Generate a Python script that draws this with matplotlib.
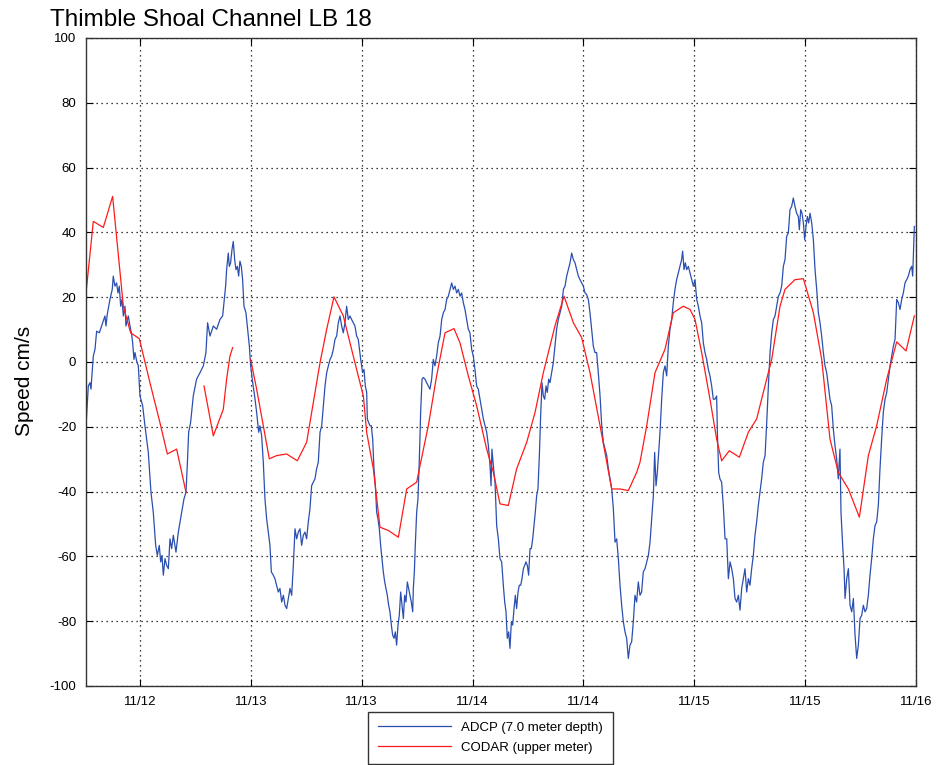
import numpy as np
import pandas as pd
import matplotlib
matplotlib.use('Agg')
import matplotlib.pyplot as plt
import matplotlib.dates as mdates

plt.rcParams['font.family'] = ['Liberation Sans', 'DejaVu Sans']
plt.rcParams['axes.unicode_minus'] = False

# hours after 11/12 00:00
adcp_hours = [
    6.16, 6.41, 6.59, 6.70, 6.77, 6.95, 7.13, 7.31, 7.60, 7.85, 8.10, 8.21, 8.32, 8.46,
    8.75, 9.00, 9.11, 9.29, 9.47, 9.62, 9.76, 9.91, 10.05, 10.20, 10.38, 10.48, 10.74,
    10.92, 11.10, 11.21, 11.35, 11.46, 11.64, 11.82, 12.00, 12.29, 12.54, 12.90, 13.19,
    13.44, 13.70, 13.88, 14.09, 14.24, 14.38, 14.53, 14.71, 14.89, 15.07, 15.25, 15.43,
    15.61, 15.90, 16.15, 16.40, 16.76, 16.98, 17.12, 17.27, 17.48, 17.77, 18.13, 18.50,
    18.86, 19.14, 19.32, 19.58, 19.94, 20.30, 20.66, 20.95, 21.27, 21.38, 21.56,
    21.67, 21.81, 21.96, 22.10, 22.25, 22.39, 22.54, 22.68, 22.82, 22.97, 23.11, 23.26,
    23.47, 23.69, 23.84, 23.98, 24.20, 24.41, 24.63, 24.85, 24.99, 25.17, 25.35, 25.53,
    25.71, 25.89, 26.07, 26.22, 26.43, 26.61, 26.79, 26.97, 27.15, 27.34, 27.52, 27.70,
    27.88, 28.06, 28.24, 28.42, 28.60, 28.78, 28.96, 29.14, 29.32, 29.50, 29.68, 29.86,
    30.04, 30.22, 30.40, 30.58, 30.76, 30.94, 31.12, 31.30, 31.49, 31.67, 31.85, 32.03,
    32.21, 32.39, 32.57, 32.75, 32.93, 33.11, 33.29, 33.47, 33.65, 33.83, 34.01, 34.19,
    34.37, 34.55, 34.73, 34.91, 35.09, 35.27, 35.45, 35.63,
    35.89, 36.10, 36.25, 36.39, 36.54, 36.61, 36.75, 36.90, 37.04, 37.19, 37.33, 37.48,
    37.62, 37.76, 37.91, 38.05, 38.20, 38.34, 38.49, 38.63, 38.77, 38.92, 39.06, 39.21,
    39.35, 39.50, 39.64, 39.78, 39.93, 40.07, 40.22, 40.36, 40.51, 40.65, 40.79, 40.94,
    41.08, 41.23, 41.37, 41.52, 41.59, 41.70, 41.80, 41.95, 42.09, 42.24, 42.38, 42.53,
    42.67, 42.85, 43.03, 43.21, 43.39, 43.57, 43.75, 43.93, 44.11, 44.29, 44.48, 44.66,
    44.84, 45.02, 45.20, 45.38, 45.56, 45.74, 45.92, 46.10, 46.28, 46.46, 46.64, 46.82,
    47.00, 47.18, 47.36, 47.54, 47.72, 47.90, 48.08, 48.26, 48.44, 48.62, 48.81, 48.99,
    49.17, 49.35, 49.53, 49.71, 49.89, 50.00, 50.10, 50.25, 50.43, 50.61, 50.79,
    50.97, 51.15, 51.33, 51.48, 51.62, 51.76, 51.91, 52.05, 52.20, 52.34, 52.49, 52.63,
    52.77, 52.92, 53.06, 53.21, 53.35, 53.50, 53.64, 53.78, 53.93, 54.07, 54.22, 54.36,
    54.51, 54.65, 54.79, 54.94, 55.08, 55.23, 55.37, 55.52, 55.66, 55.81, 55.95, 56.09,
    56.24, 56.38, 56.56, 56.74, 56.92, 57.10, 57.28, 57.47, 57.65, 57.83, 58.01, 58.19,
    58.37, 58.55, 58.73, 58.91, 59.09, 59.27, 59.45, 59.63, 59.81, 59.99, 60.17, 60.35,
    60.53, 60.71, 60.89, 61.07, 61.25, 61.43, 61.61, 61.80, 61.98, 62.16, 62.34, 62.52,
    62.70, 62.88, 63.06, 63.24, 63.42, 63.60, 63.78, 63.96, 64.14, 64.32, 64.50, 64.68,
    64.86, 65.04, 65.22, 65.40, 65.58, 65.76, 65.94,
    66.12, 66.30, 66.48, 66.67, 66.85, 67.03, 67.21, 67.39, 67.57, 67.71, 67.86, 68.00,
    68.14, 68.29, 68.47, 68.65, 68.83, 69.01, 69.19, 69.37, 69.55, 69.73, 69.91, 70.09,
    70.27, 70.45, 70.63, 70.74, 70.89, 71.03, 71.18, 71.36, 71.54, 71.72, 71.90, 72.08,
    72.26, 72.44, 72.62, 72.80, 72.98, 73.16, 73.34, 73.52, 73.70, 73.88, 74.06, 74.24,
    74.42, 74.50, 74.64, 74.78, 74.96, 75.14, 75.33, 75.51, 75.69, 75.87, 76.05, 76.23,
    76.41, 76.59, 76.77, 76.95, 77.13, 77.31, 77.49, 77.67, 77.85, 78.03, 78.21, 78.39,
    78.57, 78.75, 78.93, 79.11, 79.29, 79.47, 79.66, 79.84, 80.02, 80.20, 80.38, 80.56,
    80.74, 80.92, 81.10,
    81.28, 81.46, 81.64, 81.82, 82.00, 82.18, 82.36, 82.54, 82.72, 82.90, 83.08, 83.26,
    83.37, 83.52, 83.66, 83.81, 83.95, 84.09, 84.24, 84.38, 84.53, 84.71, 84.89, 85.07,
    85.25, 85.43, 85.61, 85.79, 85.97, 86.15, 86.33, 86.51, 86.69, 86.87, 87.05, 87.23,
    87.41, 87.59, 87.77, 87.88, 88.06, 88.21, 88.32, 88.50, 88.68, 88.86, 89.04, 89.22,
    89.40, 89.58, 89.76, 89.94, 90.12, 90.30, 90.48, 90.66, 90.84, 91.02, 91.20, 91.38,
    91.56, 91.74, 91.92, 92.10, 92.28, 92.46, 92.65, 92.83, 93.01, 93.19, 93.37, 93.55,
    93.73, 93.91, 94.09, 94.27, 94.45, 94.63, 94.81, 94.99, 95.17, 95.35, 95.53, 95.64,
    95.75, 95.82,
]

adcp_speed = [
    -19.7, -7.4, -6.4, -8.4, -5.3, 1.8, 3.9, 9.5, 9.0, 11.1, 13.1, 14.2, 11.1, 14.7,
    19.3, 22.4, 26.5, 23.4, 24.4, 21.3, 23.4, 17.2, 19.3, 14.2, 17.2, 11.1, 14.2,
    11.1, 8.5, 5.9, 0.8, 2.9, 0.3, -1.2, -10.5, -13.5, -19.7, -27.9, -40.2,
    -46.4, -56.6, -59.7, -56.6, -61.7, -59.7, -65.8, -60.7, -62.8, -63.8, -54.6, -57.6,
    -53.5, -58.7, -52.5, -48.4, -42.3, -40.2, -32.0, -21.7, -18.7, -10.5, -5.3, -3.3,
    -1.2, 2.9, 12.1, 8.0, 11.1, 10.1, 13.1, 14.2, 23.4, 28.5, 33.6,
    29.5, 30.6, 34.7, 37.2, 31.6, 28.5, 29.5, 26.5, 31.1, 29.5, 25.4, 17.2,
    15.2, 9.0, 4.9, -1.2, -6.4, -10.5, -15.6, -21.7, -19.7, -22.8, -31.0, -42.3,
    -48.4, -52.5, -56.6, -64.8, -65.8, -66.9, -68.9, -71.0, -69.9, -74.1, -72.0, -75.1,
    -76.1, -73.0, -69.9, -72.0, -62.8, -51.5, -54.6, -52.5, -51.5, -56.6, -53.5, -52.5,
    -54.6, -49.4, -45.3, -38.2, -37.1, -36.1, -33.0, -31.0, -21.7, -19.7, -13.5, -7.4,
    -3.3, -1.2, 0.8, 1.8, 3.9, 7.0, 8.0, 12.1, 14.2, 11.1, 9.0, 12.1,
    17.2, 13.1, 14.2, 13.1, 12.1, 11.1, 8.0, 7.0,
    0.8, -3.3, -2.3, -7.4, -9.4, -17.6, -18.7, -19.7, -19.7, -23.8, -33.0, -38.2,
    -46.4, -48.4, -51.5, -56.6, -60.7, -64.8, -67.9, -69.9, -72.0, -75.1, -77.1, -81.2,
    -84.3, -85.3, -83.3, -87.4, -81.2, -78.2, -71.0, -75.1, -79.2, -72.0, -74.1, -67.9,
    -69.9, -72.0, -74.1, -77.1, -69.9, -64.8, -56.6, -46.4, -42.3, -29.9, -15.6, -5.3,
    -4.8, -5.3, -6.4, -7.4, -8.4, -5.3, 0.8, -1.2, 1.8, 5.9, 8.0, 13.1,
    15.2, 16.2, 19.3, 20.3, 22.4, 24.4, 22.4, 23.4, 21.3, 22.4, 20.3, 21.3,
    18.3, 16.2, 13.1, 10.1, 9.0, 3.9, 1.8, -2.3, -7.4, -8.4, -11.5, -14.6,
    -17.6, -19.7, -21.7, -25.8, -32.0, -38.2, -26.9, -32.0, -37.1, -50.5, -54.6,
    -60.7, -61.7, -68.9, -74.1, -77.1, -85.3, -83.3, -88.4, -80.2, -81.2, -76.1, -72.0,
    -76.1, -71.0, -68.9, -68.9, -66.9, -63.8, -62.8, -61.7, -62.8, -65.8, -57.6, -57.6,
    -54.6, -50.5, -46.4, -41.2, -39.2, -28.9, -16.6, -6.4, -10.5, -11.5, -7.4, -9.4,
    -5.3, -6.4, -3.3, -0.2, 4.9, 10.1, 13.1, 15.2, 17.2, 22.4, 23.4, 26.5,
    28.5, 30.6, 33.6, 31.6, 30.6, 28.5, 26.5, 25.4, 24.4, 23.4, 21.3, 20.8,
    19.3, 15.2, 10.1, 4.9, 2.9, 2.9, -3.3, -10.5, -19.7, -24.8, -26.9, -28.9,
    -33.0, -36.1, -39.2, -45.3, -55.6, -54.6, -60.7, -68.9, -75.1, -80.2, -83.3, -85.3,
    -91.5, -87.4, -86.4, -80.2, -72.0, -74.1, -67.9,
    -72.0, -71.0, -64.8, -63.8, -61.7, -59.7, -55.6, -48.4, -41.2, -27.9, -38.2, -34.1,
    -27.9, -21.7, -11.5, -3.3, -1.2, -4.3, 4.9, 10.1, 13.1, 18.3, 22.4, 25.4,
    27.5, 29.5, 31.6, 34.2, 28.5, 30.6, 28.5, 29.5, 27.5, 25.4, 23.4, 25.4,
    19.3, 17.2, 14.2, 12.1, 5.9, 2.9, 0.8, -2.3, -4.3, -7.4, -11.5, -11.5,
    -10.5, -21.7, -34.1, -36.1, -37.1, -44.3, -54.6, -54.6, -66.9, -61.7, -63.8, -66.9,
    -73.0, -74.1, -72.0, -76.6, -69.9, -66.9, -63.8, -71.0, -66.9, -68.9, -63.8, -59.7,
    -53.5, -49.4, -44.3, -40.2, -36.1, -31.0, -28.9, -18.7, -7.4, 2.9, 9.0, 13.1,
    14.2, 17.2, 20.3,
    21.3, 23.4, 29.5, 31.6, 38.8, 39.8, 47.0, 48.0, 50.6, 48.0, 45.9, 44.9,
    40.8, 47.0, 45.9, 42.9, 37.7, 41.8, 44.9, 42.9, 45.9, 42.9, 37.7, 28.5,
    22.4, 15.2, 12.1, 8.0, 2.9, -1.2, -3.3, -7.4, -11.5, -13.5, -20.7, -25.8,
    -29.9, -36.1, -26.9, -46.4, -56.6, -63.8, -73.0, -66.9, -63.8, -75.1, -77.1, -73.0,
    -84.3, -91.5, -87.4, -79.2, -78.2, -75.1, -77.1, -76.1, -72.0, -65.8, -60.7, -54.6,
    -50.5, -49.4, -44.3, -33.0, -23.8, -15.6, -11.5, -9.4, -5.3, -1.2, 1.8, 4.9,
    7.0, 19.3, 18.3, 16.2, 19.3, 21.3, 24.4, 25.4, 26.5, 28.5, 29.5, 26.5,
    35.7, 41.8,
]

# CODAR surface current, gaps where no data
codar_hours = [
    6.16, 6.95, 8.03, 9.04, 10.20, 10.99, 11.93, 13.08, 14.16, 14.96, 15.97, 16.98,
    17.9,
    18.93, 19.94, 21.02, 21.38, 21.74, 22.03,
    23.0,
    23.98, 24.63, 25.35, 26.00, 26.79, 27.88, 29.03, 30.04, 31.49, 32.21, 33.00, 34.01,
    34.55, 35.45, 36.18, 36.54, 37.26, 37.98, 38.88, 39.97, 40.87, 41.95, 42.31, 43.21,
    44.11, 45.02, 45.99, 46.64, 47.54, 48.44, 49.53, 50.25, 50.97, 51.87, 52.77, 53.86,
    54.76, 55.66, 56.92, 57.90, 58.91, 59.81, 60.71, 61.80, 63.06, 63.96, 64.86, 65.76,
    66.12, 66.85, 67.75, 68.83, 69.73, 70.81, 71.54, 72.08, 72.80, 73.70, 74.42, 74.96,
    75.79, 76.88, 77.85, 78.75, 79.47, 80.38, 81.28, 81.82, 82.90, 83.81, 84.89, 85.79,
    86.69, 87.59, 88.68, 89.87, 90.84, 91.74, 92.83, 93.91, 94.92, 95.82,
]

codar_speed = [
    21.3, 43.4, 41.5, 51.1, 17.2, 9.0, 7.2, -6.4, -18.7, -28.4, -26.9, -40.2,
    np.nan,
    -7.4, -22.8, -14.6, -5.3, 1.8, 4.4,
    np.nan,
    0.8, -8.4, -19.7, -29.9, -28.9, -28.4, -30.5, -24.8, -0.2, 10.1, 20.1, 14.2,
    8.0, -2.3, -10.5, -21.7, -33.0, -51.0, -52.0, -54.1, -39.2, -37.1, -32.0, -19.7,
    -4.3, 9.0, 10.3, 5.9, -4.3, -13.5, -26.9, -34.1, -43.8, -44.3, -33.0, -24.8,
    -15.6, -3.3, 11.1, 20.3, 12.1, 7.5, -3.3, -19.7, -39.2, -39.2, -39.7, -34.1,
    -31.0, -19.7, -3.3, 3.9, 15.2, 17.2, 16.2, 13.1, 2.9, -11.5, -23.8, -30.5,
    -27.4, -29.4, -21.7, -17.6, -9.4, 0.8, 17.2, 22.4, 25.4, 25.7, 15.2, 0.8,
    -23.8, -34.1, -39.2, -47.9, -28.9, -19.7, -5.3, 6.2, 3.4, 14.2,
]

start = pd.Timestamp('2012-11-12')
adcp_time = start + pd.to_timedelta(adcp_hours, unit='h')
codar_time = start + pd.to_timedelta(codar_hours, unit='h')

fig = plt.figure(figsize=(9.37, 7.65), dpi=100)
ax = fig.add_axes([0.0918, 0.1033, 0.8858, 0.8471])

ax.plot(adcp_time, adcp_speed, color='#2b4fb0', lw=0.9, label='ADCP (7.0 meter depth)')
ax.plot(codar_time, codar_speed, color='#ff1a1a', lw=0.9, label='CODAR (upper meter)')

ax.set_xlim(start + pd.Timedelta(hours=6.16), start + pd.Timedelta(hours=96))
ax.set_ylim(-100, 100)
ax.set_yticks(range(-100, 101, 20))
ax.xaxis.set_major_locator(mdates.HourLocator(byhour=[0, 12]))
ax.xaxis.set_major_formatter(mdates.DateFormatter('%m/%d'))

ax.grid(True, linestyle=(0, (1, 3)), color='black', lw=0.9)
ax.tick_params(direction='in', top=True, right=True, labelsize=9.5, length=5, pad=7)
for s in ax.spines.values():
    s.set_linewidth(1.0)
    s.set_color('#333333')

ax.set_ylabel('Speed cm/s', fontsize=15)
ax.yaxis.set_label_coords(-0.063, 0.47)
fig.text(0.053, 0.974, 'Thimble Shoal Channel LB 18', fontsize=17.5, va='center', ha='left')

leg = fig.legend(loc='upper left', bbox_to_anchor=(0.393, 0.0693), fontsize=9.5,
                 fancybox=False, edgecolor='#333333', framealpha=1, borderaxespad=0,
                 handlelength=5.5, borderpad=0.75, labelspacing=0.55)
leg.get_frame().set_linewidth(1.0)

plt.savefig('out.png', dpi=100)
